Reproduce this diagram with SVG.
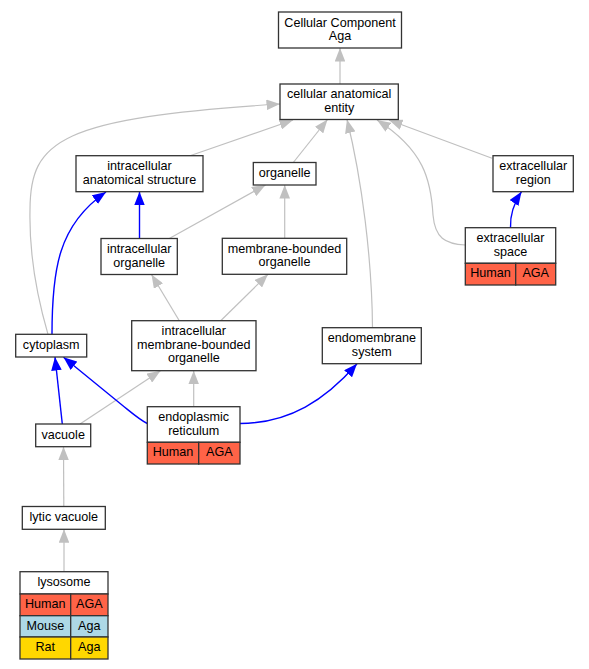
<svg xmlns="http://www.w3.org/2000/svg" width="589" height="669" viewBox="0 0 589 669">
<style>
  .box { fill: #ffffff; stroke: #333333; stroke-width: 1.3; }
  .ln { fill: none; stroke: #333333; stroke-width: 1.3; }
  .hum { fill: #ff6347; stroke: #333333; stroke-width: 1.3; }
  .mou { fill: #add8e6; stroke: #333333; stroke-width: 1.3; }
  .rat { fill: #ffd700; stroke: #333333; stroke-width: 1.3; }
  text { font-family: "Liberation Sans", Arial, sans-serif; font-size: 12.6px; fill: #000000; text-anchor: middle; }
  .eg { fill: none; stroke: #c0c0c0; stroke-width: 1.2; marker-end: url(#ag); }
  .eb { fill: none; stroke: #0000ff; stroke-width: 1.4; marker-end: url(#ab); }
</style>
<defs>
  <marker id="ag" markerUnits="userSpaceOnUse" markerWidth="14" markerHeight="10.6" viewBox="0 0 14 10.6" refX="13.5" refY="5.3" orient="auto">
    <path d="M0,0 L13.5,5.3 L0,10.6 z" fill="#c0c0c0"/>
  </marker>
  <marker id="ab" markerUnits="userSpaceOnUse" markerWidth="14" markerHeight="10.6" viewBox="0 0 14 10.6" refX="13.5" refY="5.3" orient="auto">
    <path d="M0,0 L13.5,5.3 L0,10.6 z" fill="#0000ff"/>
  </marker>
</defs>
<rect x="0" y="0" width="589" height="669" fill="#ffffff"/>
<g id="edges">
  <path class="eg" d="M340,84 L340,48"/>
  <path class="eg" d="M190,155.7 L293,120"/>
  <path class="eg" d="M293.3,162.5 L327.5,119.5"/>
  <path class="eg" d="M372.5,327.7 C372,260 362,180 347,119.5"/>
  <path class="eg" d="M465.3,245 C445,244 435,238 433,215 C431,180 424,150 377,120"/>
  <path class="eg" d="M492,158.3 L389,120"/>
  <path class="eg" d="M48,334.3 C38,300 29,255 30,210 C30,140 60,118 280,104"/>
  <path class="eg" d="M169.3,238.5 L265.5,185"/>
  <path class="eg" d="M284.7,238.3 L284.7,185"/>
  <path class="eg" d="M179.3,320.7 L151.5,274.5"/>
  <path class="eg" d="M220.7,320.7 L268,274.3"/>
  <path class="eg" d="M80,424 L160.5,370.7"/>
  <path class="eg" d="M193.7,406.7 L193.7,370.7"/>
  <path class="eg" d="M63.8,506.5 L63.5,446.7"/>
  <path class="eg" d="M64,571.7 L64,529.3"/>
  <path class="eb" d="M139.5,238.5 L139.5,191.7"/>
  <path class="eb" d="M52,334.3 C52,270 58,225 106,192"/>
  <path class="eb" d="M510.5,227.7 C510,215 514,203 521.5,191.7"/>
  <path class="eb" d="M62.3,424 L55,357"/>
  <path class="eb" d="M147.3,423.5 C140,420 132,413 122,405 L63.5,357.3"/>
  <path class="eb" d="M240,423.5 C290,423 325,400 357,363.7"/>
</g>
<g id="n_cc">
  <rect class="box" x="278.5" y="12" width="123" height="36"/>
  <text x="340" y="26.5">Cellular Component</text>
  <text x="340" y="40">Aga</text>
</g>
<g id="n_cae">
  <rect class="box" x="280" y="84" width="118.3" height="35.5"/>
  <text x="339.2" y="98.3">cellular anatomical</text>
  <text x="339.2" y="111.8">entity</text>
</g>
<g id="n_ias">
  <rect class="box" x="76" y="155.7" width="127" height="36"/>
  <text x="139.5" y="170.2">intracellular</text>
  <text x="139.5" y="183.7">anatomical structure</text>
</g>
<g id="n_org">
  <rect class="box" x="253.3" y="162.5" width="62.7" height="22.5"/>
  <text x="284.7" y="177">organelle</text>
</g>
<g id="n_ereg">
  <rect class="box" x="493" y="155.7" width="80.3" height="36"/>
  <text x="533.2" y="170.2">extracellular</text>
  <text x="533.2" y="183.7">region</text>
</g>
<g id="n_io">
  <rect class="box" x="101" y="238.5" width="76.3" height="36"/>
  <text x="139.2" y="253">intracellular</text>
  <text x="139.2" y="266.5">organelle</text>
</g>
<g id="n_mbo">
  <rect class="box" x="222.3" y="238.3" width="124.4" height="36"/>
  <text x="284.5" y="252.8">membrane-bounded</text>
  <text x="284.5" y="266.3">organelle</text>
</g>
<g id="n_es">
  <rect class="box" x="465.3" y="227.7" width="90.4" height="35.6"/>
  <rect class="hum" x="465.3" y="263.3" width="50.4" height="21.7"/>
  <rect class="hum" x="515.7" y="263.3" width="40" height="21.7"/>
  <text x="510.5" y="242.2">extracellular</text>
  <text x="510.5" y="255.7">space</text>
  <text x="490.5" y="277.4">Human</text>
  <text x="535.7" y="277.4">AGA</text>
</g>
<g id="n_cyt">
  <rect class="box" x="15.7" y="334.3" width="71" height="22.7"/>
  <text x="51.2" y="348.9">cytoplasm</text>
</g>
<g id="n_imbo">
  <rect class="box" x="131.7" y="320.7" width="124.3" height="50"/>
  <text x="193.8" y="335.3">intracellular</text>
  <text x="193.8" y="348.8">membrane-bounded</text>
  <text x="193.8" y="362.3">organelle</text>
</g>
<g id="n_ems">
  <rect class="box" x="322.3" y="327.7" width="99" height="36"/>
  <text x="371.8" y="342.2">endomembrane</text>
  <text x="371.8" y="355.7">system</text>
</g>
<g id="n_vac">
  <rect class="box" x="35.7" y="424" width="55" height="22.7"/>
  <text x="63.2" y="438.6">vacuole</text>
</g>
<g id="n_er">
  <rect class="box" x="147.3" y="406.7" width="92.7" height="35.6"/>
  <rect class="hum" x="147.3" y="442.3" width="51.4" height="21.7"/>
  <rect class="hum" x="198.7" y="442.3" width="41.3" height="21.7"/>
  <text x="193.7" y="421.2">endoplasmic</text>
  <text x="193.7" y="434.7">reticulum</text>
  <text x="173" y="456.4">Human</text>
  <text x="219.3" y="456.4">AGA</text>
</g>
<g id="n_lv">
  <rect class="box" x="22.3" y="506.5" width="83" height="22.8"/>
  <text x="63.8" y="521.1">lytic vacuole</text>
</g>
<g id="n_lys">
  <rect class="box" x="20" y="571.7" width="88" height="22.3"/>
  <rect class="hum" x="20" y="594" width="50.7" height="21.7"/>
  <rect class="hum" x="70.7" y="594" width="37.3" height="21.7"/>
  <rect class="mou" x="20" y="615.7" width="50.7" height="21.3"/>
  <rect class="mou" x="70.7" y="615.7" width="37.3" height="21.3"/>
  <rect class="rat" x="20" y="637" width="50.7" height="22"/>
  <rect class="rat" x="70.7" y="637" width="37.3" height="22"/>
  <text x="64" y="586">lysosome</text>
  <text x="45.3" y="608.4">Human</text>
  <text x="89.3" y="608.4">AGA</text>
  <text x="45.3" y="629.6">Mouse</text>
  <text x="89.3" y="629.6">Aga</text>
  <text x="45.3" y="651.2">Rat</text>
  <text x="89.3" y="651.2">Aga</text>
</g>
</svg>
